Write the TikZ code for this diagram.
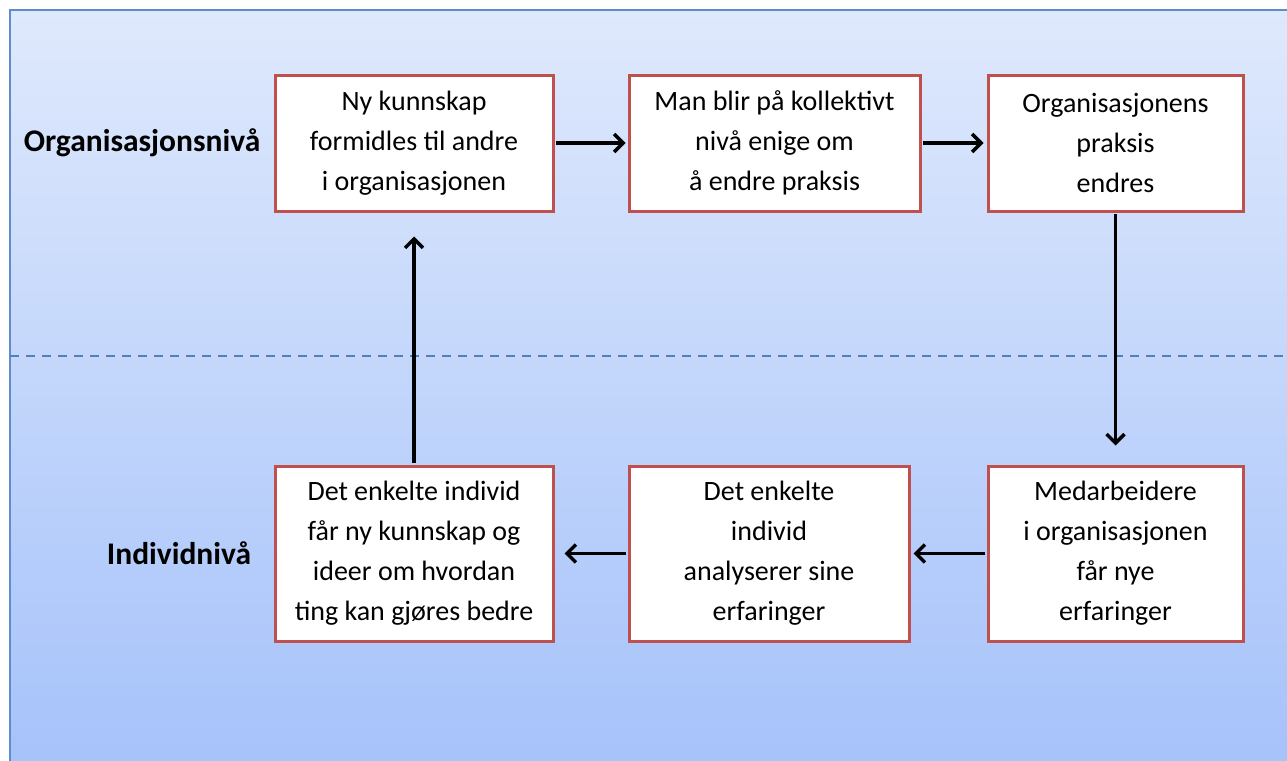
\documentclass[tikz,border=0pt]{standalone}
\usepackage{fontspec}
\setmainfont{Carlito}
\usetikzlibrary{arrows.meta}
\definecolor{bgtop}{RGB}{223,233,252}
\definecolor{bgbot}{RGB}{165,194,250}
\definecolor{bgedge}{RGB}{95,140,205}
\definecolor{boxred}{RGB}{192,80,77}
\definecolor{dashblue}{RGB}{79,129,189}
\begin{document}
\begin{tikzpicture}[x=1pt,y=-1pt,
  stepbox/.style={draw=boxred,line width=3pt,fill=white,align=center,
    font=\fontsize{28}{40}\selectfont,inner sep=0pt},
  levellabel/.style={font=\fontsize{31.5}{36}\selectfont\bfseries},
  arr/.style={line width=3.5pt,-{Straight Barb[length=9pt,width=18pt,line width=3.5pt]}}]
\useasboundingbox (0,0) rectangle (1287,760);
\fill[white] (0,0) rectangle (1287,760);
\shade[top color=bgtop,bottom color=bgbot] (10,10) rectangle (1295,770);
\draw[bgedge,line width=1.5pt] (10,770) -- (10,10) -- (1295,10);
\draw[dashblue,line width=1.5pt,dash pattern=on 9pt off 7pt] (10,356) -- (1287,356);
\node[levellabel] (org) at (142,143) {Organisasjonsnivå};
\node[levellabel] (ind) at (179,553) {Individnivå};
\node[stepbox,minimum width=278pt,minimum height=136pt] (b1) at (414,143)
  {Ny kunnskap\\formidles til andre\\i organisasjonen};
\node[stepbox,minimum width=291pt,minimum height=136pt] (b2) at (774.5,143)
  {Man blir på kollektivt\\nivå enige om\\å endre praksis};
\node[stepbox,minimum width=255pt,minimum height=136pt] (b3) at (1115.5,143)
  {Organisasjonens\\praksis\\endres};
\node[stepbox,minimum width=278pt,minimum height=175pt] (b4) at (414,553.5)
  {Det enkelte individ\\får ny kunnskap og\\ideer om hvordan\\ting kan gjøres bedre};
\node[stepbox,minimum width=280pt,minimum height=175pt] (b5) at (769,553.5)
  {Det enkelte\\individ\\analyserer sine\\erfaringer};
\node[stepbox,minimum width=255pt,minimum height=175pt] (b6) at (1115.5,553.5)
  {Medarbeidere\\i organisasjonen\\får nye\\erfaringer};
\draw[arr,shorten <=1.5pt,shorten >=2pt] (b1.east) -- (b2.west);
\draw[arr,shorten <=1.5pt,shorten >=3pt] (b2.east) -- (b3.west);
\draw[arr,shorten <=1.5pt,shorten >=19pt] (b3.south) -- (b6.north);
\draw[arr,shorten <=1.5pt,shorten >=3pt] (b6.west) -- (b5.east);
\draw[arr,shorten <=1.5pt,shorten >=10pt] (b5.west) -- (b4.east);
\draw[arr,shorten <=1.5pt,shorten >=24pt] (b4.north) -- (b1.south);
\end{tikzpicture}
\end{document}
